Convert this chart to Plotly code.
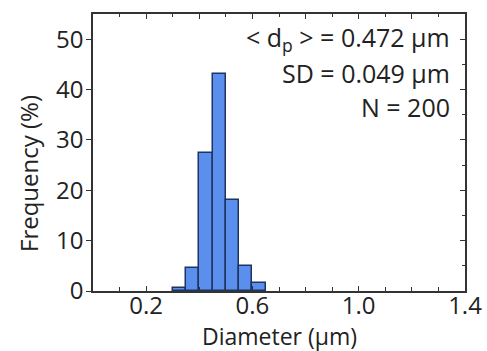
import plotly.graph_objects as go

bin_centers = [0.325, 0.375, 0.425, 0.475, 0.525, 0.575, 0.625]
frequency = [0.5, 4.5, 27.5, 43.0, 18.0, 5.0, 1.5]
bin_width = 0.05
stats_lines = ["&lt; d<sub>p</sub> &gt; = 0.472 µm", "SD = 0.049 µm", "N = 200"]
x_title = "Diameter (µm)"
y_title = "Frequency (%)"

FONT = "Open Sans"
TICK_SIZE = 24
NOTE_SIZE = 25
L, R, T, B, W, H = 93, 22, 14, 60, 487, 351
PW, PH = W - L - R, H - T - B

fig = go.Figure()
fig.add_trace(go.Bar(
    x=bin_centers, y=frequency, width=[bin_width] * len(bin_centers),
    marker=dict(color="#5A8FEE", line=dict(color="#1E3560", width=1.5)),
))
# invisible trace to activate the mirrored axes
fig.add_trace(go.Scatter(x=[0], y=[0], xaxis="x2", yaxis="y2",
                         mode="markers", marker=dict(opacity=0), hoverinfo="skip"))

axis_common = dict(showline=True, linecolor="#333", linewidth=1.5, showgrid=False,
                   zeroline=False, tickcolor="#333", ticklen=5, tickwidth=1.2, automargin=False)
fig.update_layout(
    width=W, height=H,
    margin=dict(l=L, r=R, t=T, b=B),
    plot_bgcolor="white", paper_bgcolor="white",
    showlegend=False, bargap=0,
    font=dict(family=FONT, size=TICK_SIZE, color="#222"),
    xaxis=dict(range=[0, 1.4], tickvals=[0.2, 0.6, 1.0, 1.4], ticktext=["0.2", "0.6", "1.0", "1.4"],
               ticks="inside", ticklabelstandoff=-8,
               minor=dict(tickvals=[0.1, 0.3, 0.4, 0.5, 0.7, 0.8, 0.9, 1.1, 1.2, 1.3],
                          ticks="inside", ticklen=4, tickcolor="#333"),
               **axis_common),
    yaxis=dict(range=[0, 55], tickvals=[0, 10, 20, 30, 40, 50], ticks="outside",
               ticklabelstandoff=-2,
               **axis_common),
    xaxis2=dict(range=[0, 1.4], overlaying="x", side="top", anchor="y2",
                tickvals=[0.2, 0.4, 0.6, 0.8, 1.0, 1.2], ticks="inside", showticklabels=False,
                minor=dict(tickvals=[0.1, 0.3, 0.5, 0.7, 0.9, 1.1, 1.3], ticks="inside", ticklen=3, tickcolor="#333"),
                **axis_common),
    yaxis2=dict(range=[0, 55], overlaying="y", side="right", anchor="x2",
                tickvals=[0, 10, 20, 30, 40, 50], ticks="inside", showticklabels=False,
                minor=dict(tickvals=[5, 15, 25, 35, 45], ticks="inside", ticklen=3, tickcolor="#333"),
                **axis_common),
)

# axis titles
fig.add_annotation(x=(279 - L) / PW, y=-(336 - (T + PH)) / PH, xref="paper", yref="paper",
                   text=x_title, showarrow=False, xanchor="center", yanchor="middle",
                   borderpad=0, font=dict(family=FONT, size=23, color="#222"))
fig.add_annotation(x=(28 - L) / PW, y=((T + PH) - 174) / PH, xref="paper", yref="paper",
                   text=y_title, showarrow=False, textangle=-90, xanchor="center", yanchor="middle",
                   font=dict(family=FONT, size=24, color="#222"))

for i, line in enumerate(stats_lines):
    fig.add_annotation(x=0.965, y=0.91 - i * 0.123, xref="paper", yref="paper",
                       text=line, showarrow=False, xanchor="right", yanchor="middle",
                       font=dict(family=FONT, size=NOTE_SIZE, color="#222"))

fig.write_html("out.html")
